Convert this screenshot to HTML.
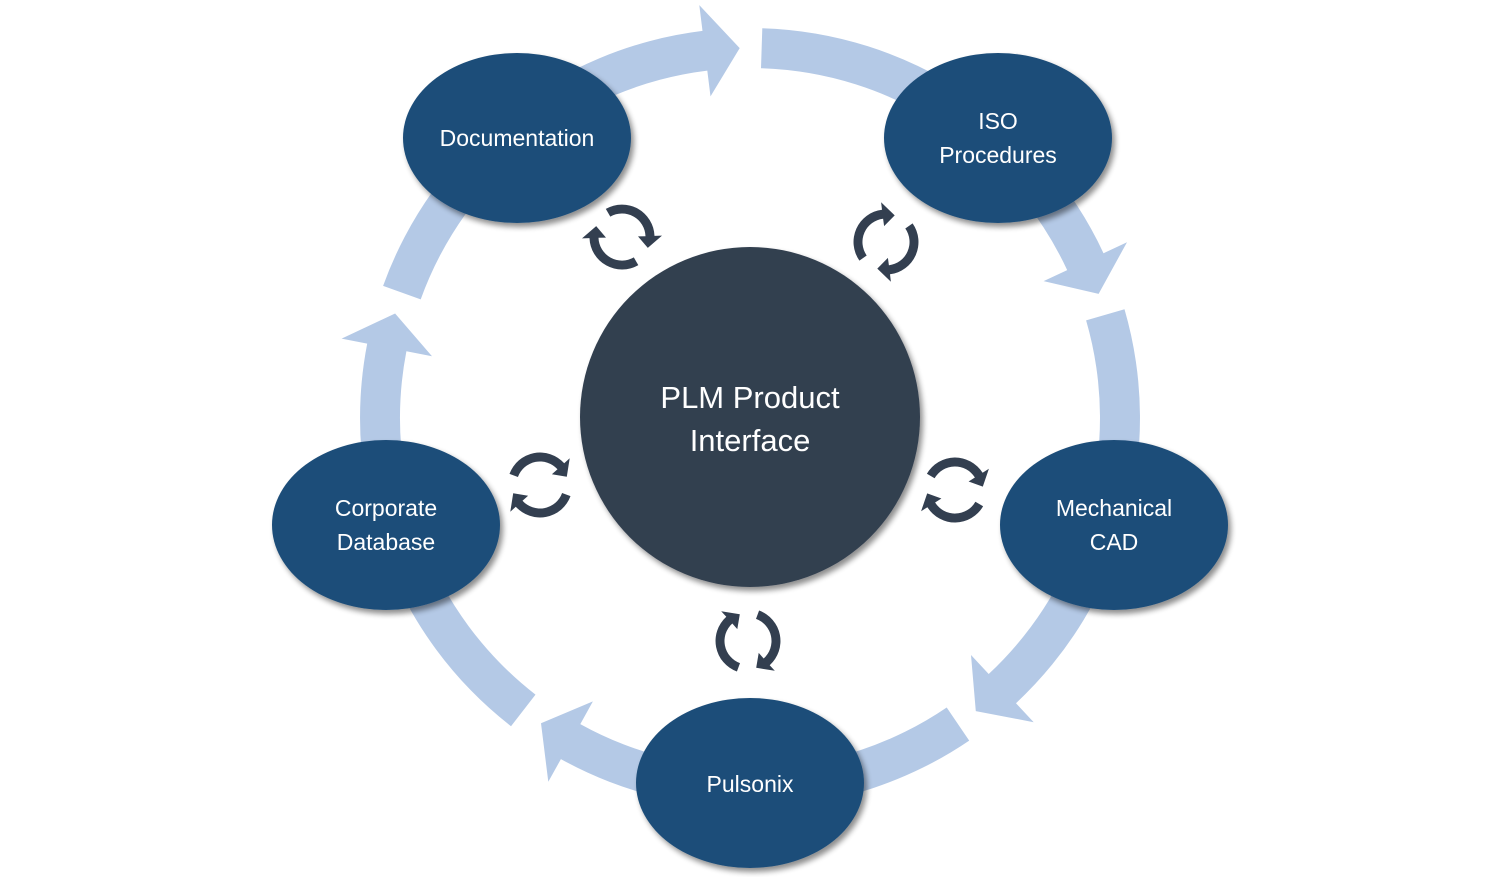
<!DOCTYPE html>
<html><head><meta charset="utf-8"><style>
html,body{margin:0;padding:0;background:#fff;}
svg{display:block;}
text{font-family:"Liberation Sans","DejaVu Sans",sans-serif;fill:#fff;text-anchor:middle;}
</style></head><body>
<svg id="s" width="1500" height="877" viewBox="0 0 1500 877" xmlns="http://www.w3.org/2000/svg">
<defs>
<filter id="sh" x="-20%" y="-20%" width="150%" height="150%">
<feGaussianBlur in="SourceAlpha" stdDeviation="3"/>
<feOffset dx="3" dy="4"/>
<feComponentTransfer><feFuncA type="linear" slope="0.45"/></feComponentTransfer>
<feMerge><feMergeNode/><feMergeNode in="SourceGraphic"/></feMerge>
</filter>
</defs>
<g id="ring"></g>
<g id="icons"></g>
<circle cx="750" cy="417" r="170" fill="#333f50" filter="url(#sh)"/>
<ellipse cx="517" cy="138" rx="114" ry="85" fill="#1f4e79" filter="url(#sh)"/>
<ellipse cx="998" cy="138" rx="114" ry="85" fill="#1f4e79" filter="url(#sh)"/>
<ellipse cx="1114" cy="525" rx="114" ry="85" fill="#1f4e79" filter="url(#sh)"/>
<ellipse cx="750" cy="783" rx="114" ry="85" fill="#1f4e79" filter="url(#sh)"/>
<ellipse cx="386" cy="525" rx="114" ry="85" fill="#1f4e79" filter="url(#sh)"/>
<text x="750" y="408" font-size="31">PLM Product</text>
<text x="750" y="451" font-size="31">Interface</text>
<text x="517" y="146" font-size="23">Documentation</text>
<text x="998" y="129" font-size="23">ISO</text>
<text x="998" y="163" font-size="23">Procedures</text>
<text x="1114" y="516" font-size="23">Mechanical</text>
<text x="1114" y="550" font-size="23">CAD</text>
<text x="750" y="792" font-size="23">Pulsonix</text>
<text x="386" y="516" font-size="23">Corporate</text>
<text x="386" y="550" font-size="23">Database</text>
</svg>
<script>
(function(){
var NS="http://www.w3.org/2000/svg";
var cx=750,cy=418;
function P(r,t){var a=t*Math.PI/180;return (cx+r*Math.sin(a)).toFixed(1)+","+(cy-r*Math.cos(a)).toFixed(1);}
var ring=document.getElementById("ring");
for(var k=0;k<5;k++){
 var s=k*72+1.8, hb=k*72+72-7, tip=k*72+72-1.6;
 var d="M"+P(390,s)+" A390,390 0 0 1 "+P(390,hb)+" L"+P(416,hb)+" L"+P(370,tip)+" L"+P(324,hb)+" L"+P(350,hb)+" A350,350 0 0 0 "+P(350,s)+" Z";
 var p=document.createElementNS(NS,"path");p.setAttribute("d",d);p.setAttribute("fill","#b4c9e6");ring.appendChild(p);
}
var ic=document.getElementById("icons");
function Q(x,y,r,t){var a=t*Math.PI/180;return [x+r*Math.sin(a),y-r*Math.cos(a)];}
function f(p){return p[0].toFixed(1)+","+p[1].toFixed(1);}
function icon(x,y,a){
 var R=28,w=4.5;
 [a,a+180].forEach(function(b){
  var e=b+118;
  var d="M"+f(Q(x,y,R+w,b))+" A"+(R+w)+","+(R+w)+" 0 0 1 "+f(Q(x,y,R+w,e))+" L"+f(Q(x,y,R+12,e))+" L"+f(Q(x,y,R,e+25))+" L"+f(Q(x,y,R-12,e))+" L"+f(Q(x,y,R-w,e))+" A"+(R-w)+","+(R-w)+" 0 0 0 "+f(Q(x,y,R-w,b))+" Z";
  var p=document.createElementNS(NS,"path");p.setAttribute("d",d);p.setAttribute("fill","#333f50");ic.appendChild(p);
 });
}
icon(622,237,330);
icon(886,242,235);
icon(955,490,300);
icon(748,641,200);
icon(540,485,290);
})();
</script>
</body></html>
